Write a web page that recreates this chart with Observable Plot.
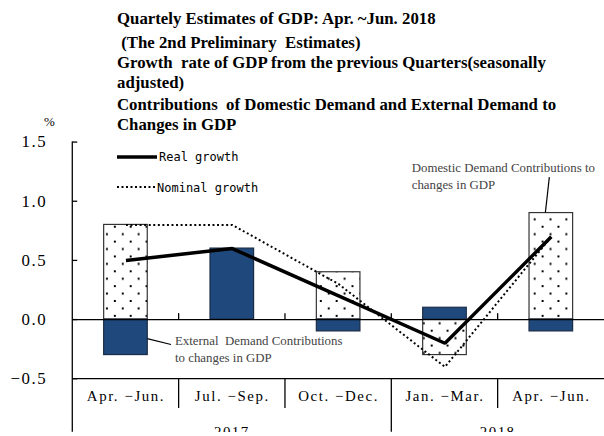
<!DOCTYPE html>
<html>
<head>
<meta charset="utf-8">
<script src="https://cdn.jsdelivr.net/npm/d3@7"></script>
<script src="https://cdn.jsdelivr.net/npm/@observablehq/plot@0.6"></script>
<style>
  body { margin: 0; background: #fff; }
  #wrap { position: relative; width: 604px; height: 436px; overflow: hidden; background: #fff; }
  .tl { position: absolute; left: 117px; font-family: "Liberation Serif", serif; font-weight: bold; font-size: 16.8px; line-height: 17px; white-space: pre; color: #000; }
  #legend { position: absolute; left: 0; top: 0; pointer-events: none; }
  #chart { position: absolute; left: 0; top: 0; }
</style>
</head>
<body>
<div id="wrap">
  <div id="chart"></div>
  <div class="tl" style="top:9.8px">Quartely Estimates of GDP: Apr. ~Jun. 2018</div>
  <div class="tl" style="top:33.5px"> (The 2nd Preliminary  Estimates)</div>
  <div class="tl" style="top:53.6px">Growth  rate of GDP from the previous Quarters(seasonally</div>
  <div class="tl" style="top:74.2px">adjusted)</div>
  <div class="tl" style="top:95.6px">Contributions  of Domestic Demand and External Demand to</div>
  <div class="tl" style="top:115.6px">Changes in GDP</div>
  <svg id="legend" width="604" height="436">
    <text x="44" y="126" font-family="Liberation Serif, serif" font-size="13">%</text>
    <line x1="117" y1="157" x2="157" y2="157" stroke="#000" stroke-width="3.5"/>
    <text x="159" y="161" font-family="DejaVu Sans Mono, monospace" font-size="12">Real growth</text>
    <line x1="117" y1="187" x2="155" y2="187" stroke="#000" stroke-width="2" stroke-dasharray="2,2.5"/>
    <text x="157" y="192" font-family="DejaVu Sans Mono, monospace" font-size="12">Nominal growth</text>
  </svg>
</div>
<script>
// ---- data ----
const quarters = ["2017Q2", "2017Q3", "2017Q4", "2018Q1", "2018Q2"];
const quarterLabels = ["Apr. \u2212Jun.", "Jul. \u2212Sep.", "Oct. \u2212Dec.", "Jan. \u2212Mar.", "Apr. \u2212Jun."];
const years = ["2017", "2017", "2017", "2018", "2018"];
const domestic = [0.8, 0.0, 0.4, -0.3, 0.9];
const external = [-0.3, 0.6, -0.1, 0.1, -0.1];
const realGrowth = [0.5, 0.6, 0.2, -0.2, 0.7];
const nominalGrowth = [0.8, 0.8, 0.3, -0.4, 0.7];
const yTicks = [-0.5, 0, 0.5, 1.0, 1.5];

// annotation anchors (category + value of first text baseline)
const annotations = [
  {q: "2018Q2", y: 1.24, dx: -140.5, lines: ["Domestic Demand Contributions to", "changes in GDP"]},
  {q: "2017Q2", y: -0.222, dx: 50, lines: ["External  Demand Contributions", "to changes in GDP"]}
];
const leaders = [
  {q: "2018Q2", dx1: -5.5, y1: 0.9, dx2: -1.5, y2: 1.2},
  {q: "2017Q2", dx1: 22, y1: -0.165, dx2: 46, y2: -0.215}
];

const rows = quarters.map((q, i) => ({
  q, label: quarterLabels[i], year: years[i],
  domestic: domestic[i], external: external[i],
  real: realGrowth[i], nominal: nominalGrowth[i]
}));
const labelOf = new Map(quarters.map((q, i) => [q, quarterLabels[i]]));

// structural lines: y axis line, zero-line ticks, category separators, year labels, annotations
function structure(index, scales, values, dim) {
  const x = scales.x, y = scales.y;
  const step = x(quarters[1]) - x(quarters[0]);
  const bw = x.bandwidth ? x.bandwidth() : step * 0.41;
  const gap = (step - bw) / 2;
  const left = dim.marginLeft, top = dim.marginTop;
  const bottom = dim.height - dim.marginBottom;
  const g = d3.create("svg:g");
  const lines = g.append("g").attr("stroke", "#000").attr("stroke-width", 1.3).attr("fill", "none");
  lines.append("line").attr("x1", left).attr("x2", left).attr("y1", top).attr("y2", dim.height);
  for (let i = 1; i < quarters.length; i++) {
    const bx = x(quarters[i]) - gap;
    lines.append("line").attr("x1", bx).attr("x2", bx).attr("y1", y(0) - 6).attr("y2", y(0));
    const yearBreak = years[i] !== years[i - 1];
    lines.append("line").attr("x1", bx).attr("x2", bx).attr("y1", bottom).attr("y2", yearBreak ? dim.height : bottom + 30);
  }
  const uniq = Array.from(new Set(years));
  for (const yr of uniq) {
    const qs = quarters.filter((q, i) => years[i] === yr);
    const x0 = x(qs[0]) - gap, x1 = x(qs[qs.length - 1]) + bw + gap;
    g.append("text").attr("x", (x0 + x1) / 2).attr("y", bottom + 59)
      .attr("text-anchor", "middle").attr("font-family", "Liberation Serif, serif")
      .attr("font-size", 15).attr("letter-spacing", "1.5px").text(yr);
  }
  for (const l of leaders) {
    const cx = x(l.q) + bw / 2;
    g.append("line").attr("stroke", "#000").attr("stroke-width", 1.2)
      .attr("x1", cx + l.dx1).attr("y1", y(l.y1)).attr("x2", cx + l.dx2).attr("y2", y(l.y2));
  }
  for (const a of annotations) {
    const cx = x(a.q) + bw / 2;
    const t = g.append("text").attr("font-family", "Liberation Serif, serif").attr("font-size", 13)
      .attr("text-anchor", "start").attr("fill", "#444")
      .attr("x", cx + a.dx).attr("y", y(a.y)).style("white-space", "pre");
    a.lines.forEach((s, i) => t.append("tspan").attr("x", cx + a.dx).attr("dy", i ? 17 : 0).text(s));
  }
  return g.node();
}

const chart = Plot.plot({
  width: 610,
  height: 436,
  marginTop: 143,
  marginBottom: 54,
  marginLeft: 73,
  marginRight: 0,
  style: {fontFamily: "Liberation Serif, serif", background: "transparent", color: "#000"},
  x: {domain: quarters, paddingInner: 0.59, paddingOuter: 0.295, round: false, label: null},
  y: {domain: [-0.5, 1.5], label: null},
  marks: [
    Plot.barY(rows, {x: "q", y: "domestic", fill: "url(#dots)", stroke: "#333", strokeWidth: 1.2}),
    Plot.barY(rows, {x: "q", y: "external", fill: "#1F497D", stroke: "#1b2b44", strokeWidth: 1.2}),
    Plot.ruleY([0], {stroke: "#000", strokeWidth: 1.3}),
    Plot.ruleY([-0.5], {stroke: "#000", strokeWidth: 1.3}),
    Plot.lineY(rows, {x: "q", y: "nominal", stroke: "#000", strokeWidth: 2, strokeDasharray: "2,2.6", strokeLinecap: "butt"}),
    Plot.lineY(rows, {x: "q", y: "real", stroke: "#000", strokeWidth: 3.5, strokeLinejoin: "miter", strokeLinecap: "butt"}),
    Plot.axisY({ticks: yTicks, tickSize: -5, tickPadding: 31, tickFormat: d3.format(".1f"), fontSize: 17, strokeWidth: 1.3}),
    Plot.axisX({tickSize: 0, tickPadding: 12, fontSize: 15, tickFormat: d => labelOf.get(d)}),
    structure
  ]
});

const defs = d3.select(chart).insert("defs", ":first-child");
const pat = defs.append("pattern").attr("id", "dots").attr("patternUnits", "userSpaceOnUse")
  .attr("width", 16).attr("height", 15);
pat.append("rect").attr("width", 16).attr("height", 15).attr("fill", "#fff");
pat.append("rect").attr("x", 3).attr("y", 3).attr("width", 2).attr("height", 2).attr("fill", "#000");
pat.append("rect").attr("x", 11).attr("y", 10.5).attr("width", 2).attr("height", 2).attr("fill", "#000");

d3.select(chart).selectAll('[aria-label="x-axis tick label"] text').style("letter-spacing", "1.6px");
d3.select(chart).selectAll('[aria-label="y-axis tick label"] text').style("letter-spacing", "1.5px");

document.getElementById("chart").appendChild(chart);
</script>
</body>
</html>
